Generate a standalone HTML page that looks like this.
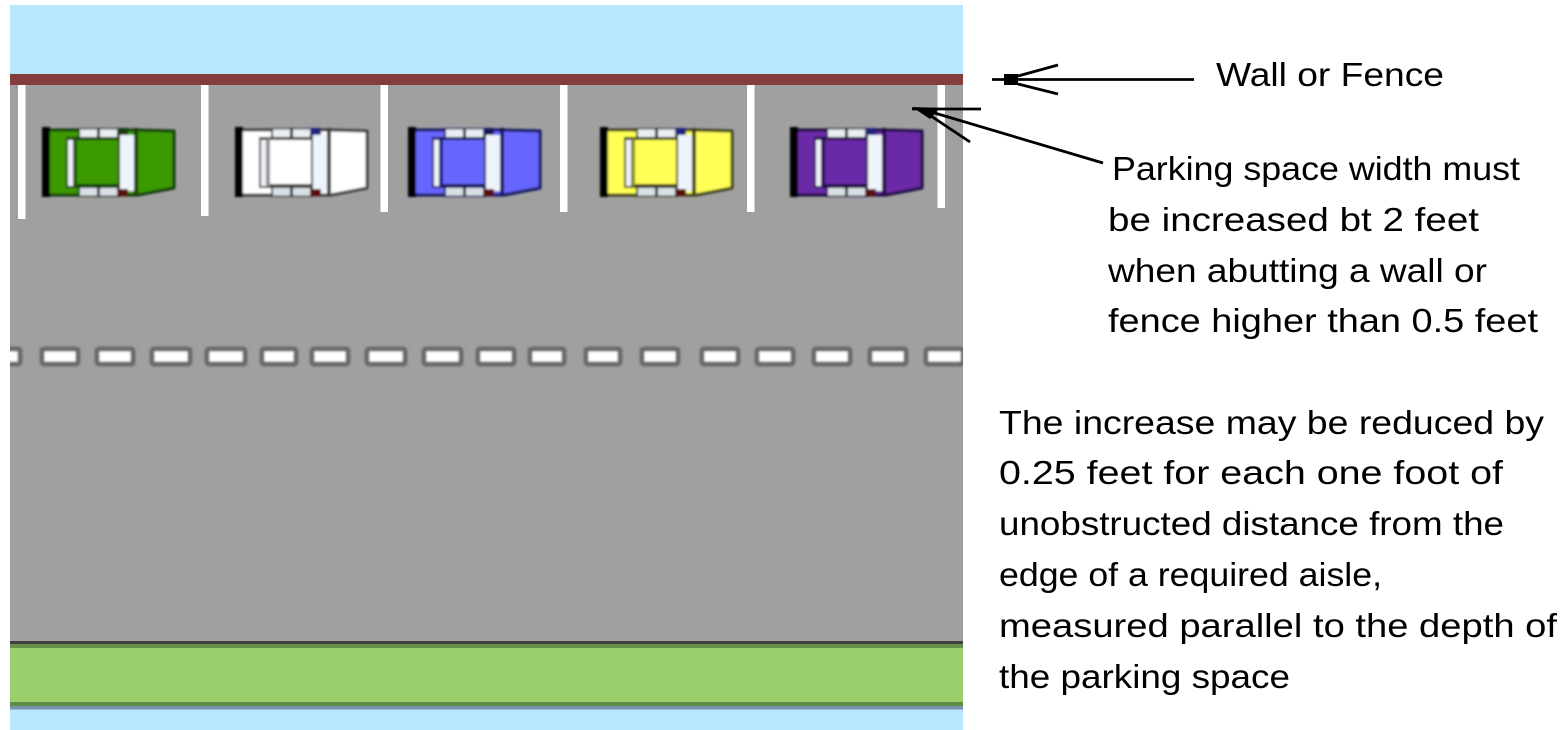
<!DOCTYPE html>
<html>
<head>
<meta charset="utf-8">
<style>
html,body{margin:0;padding:0;background:#fff;width:1565px;height:730px;overflow:hidden}
svg{display:block}
text{font-family:"Liberation Sans",sans-serif;font-size:33px;fill:#000}
</style>
</head>
<body>
<svg width="1565" height="730" viewBox="0 0 1565 730" xmlns="http://www.w3.org/2000/svg">
<defs>
<filter id="b" x="-10%" y="-10%" width="120%" height="120%"><feGaussianBlur stdDeviation="1"/></filter>
<filter id="s" x="-10%" y="-50%" width="120%" height="200%"><feGaussianBlur stdDeviation="1"/></filter>
<g id="car">
  <path d="M2 4H94L132 5V62L96 69H2Z" fill="currentColor" stroke="var(--e)" stroke-width="3" stroke-linejoin="round"/>
  <rect x="0" y="1" width="8" height="70" fill="#000"/>
  <rect x="24" y="11" width="69" height="51" fill="var(--e)"/>
  <rect x="36" y="2" width="42" height="10" fill="var(--e)"/>
  <rect x="36" y="61" width="42" height="10" fill="var(--e)"/>
  <rect x="38" y="3.500" width="37" height="7.500" fill="#e8eef2"/>
  <rect x="38" y="62" width="37" height="7.500" fill="#d8e0e6"/>
  <rect x="55" y="2" width="3" height="9" fill="#222"/>
  <rect x="55" y="62" width="3" height="9" fill="#333"/>
  <rect x="26" y="14" width="5" height="46" fill="#eef3f8"/>
  <rect x="31" y="13" width="4" height="47" fill="var(--r)"/>
  <rect x="35" y="14" width="41" height="44" fill="currentColor"/>
  <rect x="78" y="9" width="14" height="56" fill="#eef4fb"/>
  <rect x="92" y="2" width="4" height="68" fill="var(--e)"/>
  <rect x="75" y="63" width="11" height="7" fill="#5a1010"/>
  <rect x="75" y="2" width="11" height="7" fill="var(--t)"/>
</g>
</defs>

<rect x="10" y="5" width="953" height="725" fill="#b9e6ff"/>
<rect x="10" y="74" width="953" height="11" fill="#843c3c"/>
<rect x="10" y="85" width="953" height="556" fill="#a0a0a0"/>

<g fill="#fff">
  <rect x="18" y="85" width="7.500" height="134"/>
  <rect x="201" y="85" width="7.500" height="131"/>
  <rect x="380.500" y="85" width="7.500" height="127"/>
  <rect x="560" y="85" width="7.500" height="127"/>
  <rect x="747" y="85" width="7.500" height="127"/>
  <rect x="937.500" y="85" width="7.500" height="123"/>
</g>

<g filter="url(#b)">
  <use href="#car" x="42" y="126" style="color:#3b9a00;--e:#123c08;--r:#1d5a08;--t:#123c08"/>
  <use href="#car" x="235" y="126" style="color:#fff;--e:#3c3c3c;--r:#909090;--t:#24247a"/>
  <use href="#car" x="408" y="126" style="color:#6666ff;--e:#14145a;--r:#1c1c8a;--t:#14145a"/>
  <use href="#car" x="600" y="126" style="color:#ffff55;--e:#3c3c20;--r:#888830;--t:#24247a"/>
  <use href="#car" x="790" y="126" style="color:#6a2ca8;--e:#1c0c40;--r:#2c1060;--t:#24247a"/>
</g>

<g fill="#fff" stroke="#6a6a6a" stroke-width="5" filter="url(#s)">
  <rect x="4" y="349" width="16" height="15" rx="2"/>
  <rect x="42" y="349" width="36" height="15" rx="2"/>
  <rect x="97" y="349" width="36" height="15" rx="2"/>
  <rect x="152" y="349" width="38" height="15" rx="2"/>
  <rect x="207" y="349" width="38" height="15" rx="2"/>
  <rect x="262" y="349" width="34" height="15" rx="2"/>
  <rect x="312" y="349" width="36" height="15" rx="2"/>
  <rect x="367" y="349" width="38" height="15" rx="2"/>
  <rect x="424" y="349" width="37" height="15" rx="2"/>
  <rect x="478" y="349" width="36" height="15" rx="2"/>
  <rect x="530" y="349" width="34" height="15" rx="2"/>
  <rect x="586" y="349" width="34" height="15" rx="2"/>
  <rect x="642" y="349" width="36" height="15" rx="2"/>
  <rect x="702" y="349" width="36" height="15" rx="2"/>
  <rect x="757" y="349" width="36" height="15" rx="2"/>
  <rect x="814" y="349" width="36" height="15" rx="2"/>
  <rect x="870" y="349" width="36" height="15" rx="2"/>
  <rect x="926" y="349" width="37" height="15" rx="2"/>
</g>
<rect x="0" y="340" width="10" height="35" fill="#fff"/>
<rect x="963" y="340" width="10" height="35" fill="#fff"/>

<rect x="10" y="641" width="953" height="3" fill="#404040"/>
<rect x="10" y="644" width="953" height="4" fill="#66914a"/>
<rect x="10" y="648" width="953" height="54" fill="#9bcf6b"/>
<rect x="10" y="702" width="953" height="4" fill="#5f8a42"/>
<rect x="10" y="706" width="953" height="3.500" fill="#7a90b0"/>

<g stroke="#000" stroke-width="2.800" fill="none">
  <path d="M992 79.500H1194"/>
  <path d="M1018 76L1058 65M1018 84L1058 94"/>
  <path d="M912 109H981"/>
  <path d="M928 111L1103 163"/>
  <path d="M925 112L970 142"/>
</g>
<rect x="1004" y="74" width="14" height="11" fill="#000"/>
<path d="M912 107L940 108L930 119Z" fill="#000"/>

<text x="1216" y="86" textLength="228" lengthAdjust="spacingAndGlyphs">Wall or Fence</text>
<text x="1112" y="180" textLength="408" lengthAdjust="spacingAndGlyphs">Parking space width must</text>
<text x="1108" y="231" textLength="371" lengthAdjust="spacingAndGlyphs">be increased bt 2 feet</text>
<text x="1108" y="282" textLength="379" lengthAdjust="spacingAndGlyphs">when abutting a wall or</text>
<text x="1108" y="332" textLength="430" lengthAdjust="spacingAndGlyphs">fence higher than 0.5 feet</text>
<text x="999" y="434" textLength="545" lengthAdjust="spacingAndGlyphs">The increase may be reduced by</text>
<text x="999" y="484" textLength="504" lengthAdjust="spacingAndGlyphs">0.25 feet for each one foot of</text>
<text x="999" y="535" textLength="505" lengthAdjust="spacingAndGlyphs">unobstructed distance from the</text>
<text x="999" y="586" textLength="383" lengthAdjust="spacingAndGlyphs">edge of a required aisle,</text>
<text x="999" y="637" textLength="558" lengthAdjust="spacingAndGlyphs">measured parallel to the depth of</text>
<text x="999" y="688" textLength="291" lengthAdjust="spacingAndGlyphs">the parking space</text>
</svg>
</body>
</html>
